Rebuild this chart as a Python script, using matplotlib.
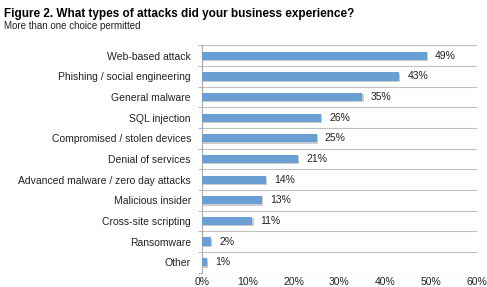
import matplotlib.pyplot as plt
import numpy as np

categories = ['Web-based attack', 'Phishing / social engineering', 'General malware',
              'SQL injection', 'Compromised / stolen devices', 'Denial of services',
              'Advanced malware / zero day attacks', 'Malicious insider',
              'Cross-site scripting', 'Ransomware', 'Other']
values = [49, 43, 35, 26, 25, 21, 14, 13, 11, 2, 1]
xticks = [0, 10, 20, 30, 40, 50, 60]

plt.rcParams['font.family'] = ['Liberation Sans', 'DejaVu Sans']

fig = plt.figure(figsize=(4.87, 2.87), dpi=100)
ax = fig.add_axes([202 / 487, 1 - 272.5 / 287, 275 / 487, 227 / 287])

y = np.arange(len(categories))
# slight shadow behind bars
ax.barh(y + 0.06, values, height=0.4, left=0.25, color='#cccccc', zorder=2)
ax.barh(y, values, height=0.4, color='#6a9fd4', zorder=3)
for yi, v in zip(y, values):
    ax.text(v + 1.8, yi, f'{v}%', va='center', ha='left', fontsize=7.5, color='#222222')

ax.set_ylim(len(categories) - 0.5, -0.5)
ax.set_xlim(0, 60)
ax.set_yticks(y)
ax.set_yticklabels(categories, fontsize=7.5, color='#222222')
ax.set_yticks(np.arange(-0.5, len(categories), 1), minor=True)
ax.tick_params(axis='y', which='major', length=0, pad=8)
ax.tick_params(axis='y', which='minor', length=3, color='#aaaaaa')
ax.set_xticks(xticks)
ax.set_xticklabels([f'{t}%' for t in xticks], fontsize=7.5, color='#222222')
ax.tick_params(axis='x', length=0, pad=3)
ax.grid(axis='y', which='minor', color='#c0c0c0', linewidth=0.8, zorder=0)
for s in ['top', 'right', 'bottom']:
    ax.spines[s].set_visible(False)
ax.spines['left'].set_color('#aaaaaa')

fig.text(4 / 487, 1 - 14 / 287, 'Figure 2. What types of attacks did your business experience?',
         fontsize=8.5, fontweight='bold', va='center', ha='left')
fig.text(4 / 487, 1 - 26 / 287, 'More than one choice permitted',
         fontsize=7, va='center', ha='left', color='#222222')

fig.savefig('out.png', dpi=100)
